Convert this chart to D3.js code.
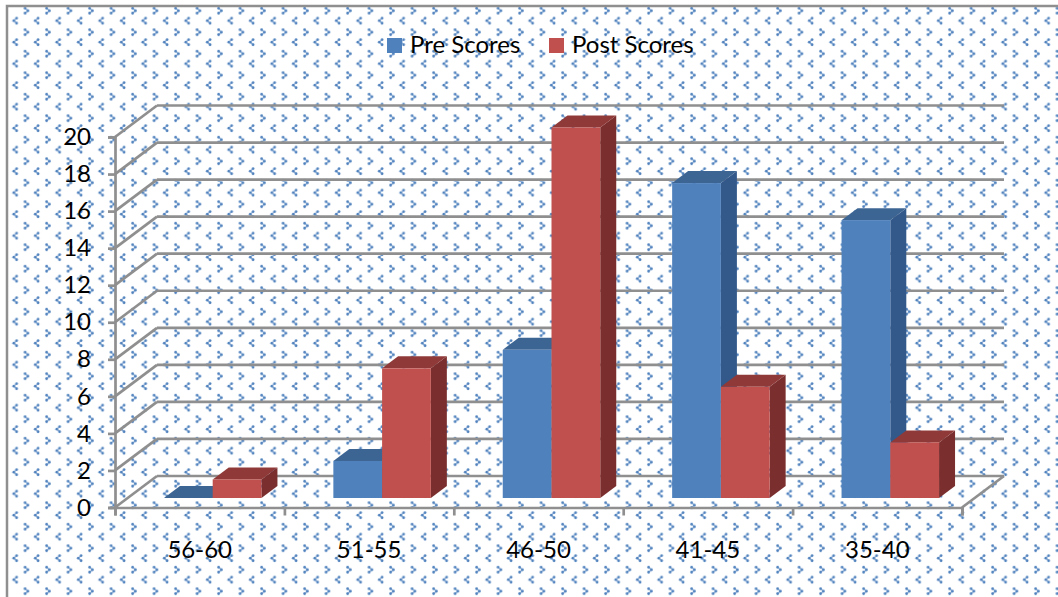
<!DOCTYPE html>
<html>
<head>
<meta charset="utf-8">
<script src="https://cdn.jsdelivr.net/npm/d3@7"></script>
<style>
html, body { margin: 0; padding: 0; background: #fff; overflow: hidden; }
svg { display: block; }
text { font-family: Lato, "Open Sans", sans-serif; fill: #000; }
.axis path, .axis line { stroke: #8f8f8f; stroke-width: 2.7; }
.axis text { font-size: 24px; font-family: Lato, "Open Sans", sans-serif; fill: #000; }
</style>
</head>
<body>
<script>
var categories = ["56-60", "51-55", "46-50", "41-45", "35-40"];
var preScores = [0, 2, 8, 17, 15];
var postScores = [1, 7, 20, 6, 3];
var yTicks = [0, 2, 4, 6, 8, 10, 12, 14, 16, 18, 20];
var seriesNames = ["Pre Scores", "Post Scores"];

var width = 1058, height = 597;
var floorDx = 42, floorDy = -31.5;   // front edge to back wall
var barDx = 13, barDy = -9.5;        // front edge to bar front
var depthDx = 16, depthDy = -12;     // bar depth
var gridColor = "#8f8f8f";

var colors = [
  {front: "#4f81bd", top: "#3d6593", side: "#33588a"},
  {front: "#c0504d", top: "#8f3a38", side: "#7a2f2e"}
];

var svg = d3.select("body").append("svg").attr("width", width).attr("height", height);

// dotted chevron background
var defs = svg.append("defs");
defs.append("filter").attr("id", "soft").append("feGaussianBlur").attr("stdDeviation", 0.5);
var tile = defs.append("pattern").attr("id", "chevrons")
  .attr("patternUnits", "userSpaceOnUse")
  .attr("width", 21.5).attr("height", 21.5)
  .append("g").attr("filter", "url(#soft)");
var chevronDots = [
  [[3.6, 8.2], [6.4, 10.7], [3.6, 13.2]],
  [[16.6, 18.2], [13.8, 20.7], [16.6, 23.2]],
  [[16.6, -3.3], [13.8, -0.8], [16.6, 1.7]]
];
chevronDots.forEach(function(group) {
  tile.append("path").attr("d", d3.line()(group)).attr("fill", "none")
    .attr("stroke", "#4f81bd").attr("stroke-width", 1.1).attr("opacity", 0.7);
  group.forEach(function(p) {
    tile.append("circle").attr("cx", p[0]).attr("cy", p[1]).attr("r", 1.4).attr("fill", "#4f81bd");
  });
});

svg.append("rect").attr("x", 7).attr("y", 6).attr("width", width).attr("height", height)
  .attr("fill", "url(#chevrons)").attr("stroke", gridColor).attr("stroke-width", 2.5);

var y = d3.scaleLinear().domain([0, 20]).range([507.5, 137]);
var x = d3.scaleBand().domain(categories).range([115, 962]);
var pos = d3.scaleBand().domain(seriesNames).range([0, 97.5]);

var plot = svg.append("g");

// back wall gridlines and the diagonals on the side wall
plot.selectAll("line.back").data(yTicks).enter().append("line")
  .attr("x1", 115 + floorDx).attr("x2", 962 + floorDx)
  .attr("y1", function(d) { return y(d) + floorDy; })
  .attr("y2", function(d) { return y(d) + floorDy; })
  .attr("stroke", gridColor).attr("stroke-width", 2.7);
plot.selectAll("line.side").data(yTicks).enter().append("line")
  .attr("x1", 115).attr("x2", 115 + floorDx)
  .attr("y1", function(d) { return y(d); })
  .attr("y2", function(d) { return y(d) + floorDy; })
  .attr("stroke", gridColor).attr("stroke-width", 2.7);
plot.append("line")
  .attr("x1", 962).attr("x2", 962 + floorDx)
  .attr("y1", y(0)).attr("y2", y(0) + floorDy)
  .attr("stroke", gridColor).attr("stroke-width", 2.7);

// axes
var yAxis = d3.axisLeft(y).tickValues(yTicks).tickSize(7).tickPadding(17);
plot.append("g").attr("class", "axis").attr("transform", "translate(115,0)").call(yAxis);

var xBounds = categories.map(function(c) { return x(c); }).concat([x.range()[1]]);
var xTickAxis = d3.axisBottom(d3.scaleLinear().domain([115, 962]).range([115, 962]))
  .tickValues(xBounds).tickSize(8).tickFormat("");
plot.append("g").attr("class", "axis").attr("transform", "translate(0," + y(0) + ")").call(xTickAxis);

var xLabels = d3.axisBottom(x).tickSize(0).tickPadding(33);
var xLabelG = plot.append("g").attr("class", "axis").attr("transform", "translate(0," + y(0) + ")").call(xLabels);
xLabelG.select(".domain").remove();

// bars
function bar(g, xLeft, w, value, c) {
  var x0 = xLeft + barDx, x1 = x0 + w;
  var b = y(0) + barDy, t = y(value) + barDy;
  g.append("path").attr("fill", c.side)
    .attr("d", d3.line()([[x1, t], [x1 + depthDx, t + depthDy], [x1 + depthDx, b + depthDy], [x1, b]]) + "Z");
  g.append("path").attr("fill", c.top)
    .attr("d", d3.line()([[x0, t], [x0 + depthDx, t + depthDy], [x1 + depthDx, t + depthDy], [x1, t]]) + "Z");
  g.append("rect").attr("x", x0).attr("y", t).attr("width", w).attr("height", b - t).attr("fill", c.front);
}

var bars = svg.append("g");
categories.forEach(function(c, i) {
  var centre = x(c) + x.bandwidth() / 2;
  [preScores[i], postScores[i]].forEach(function(v, s) {
    bar(bars, centre - 97.5 / 2 + pos(seriesNames[s]), pos.bandwidth(), v, colors[s]);
  });
});

// legend
var legendX = [387, 549];
seriesNames.forEach(function(name, i) {
  svg.append("rect").attr("x", legendX[i]).attr("y", 38).attr("width", 15).attr("height", 15).attr("fill", colors[i].front);
  svg.append("text").attr("x", legendX[i] + 23).attr("y", 53).attr("font-size", 24).text(name);
});
</script>
</body>
</html>
